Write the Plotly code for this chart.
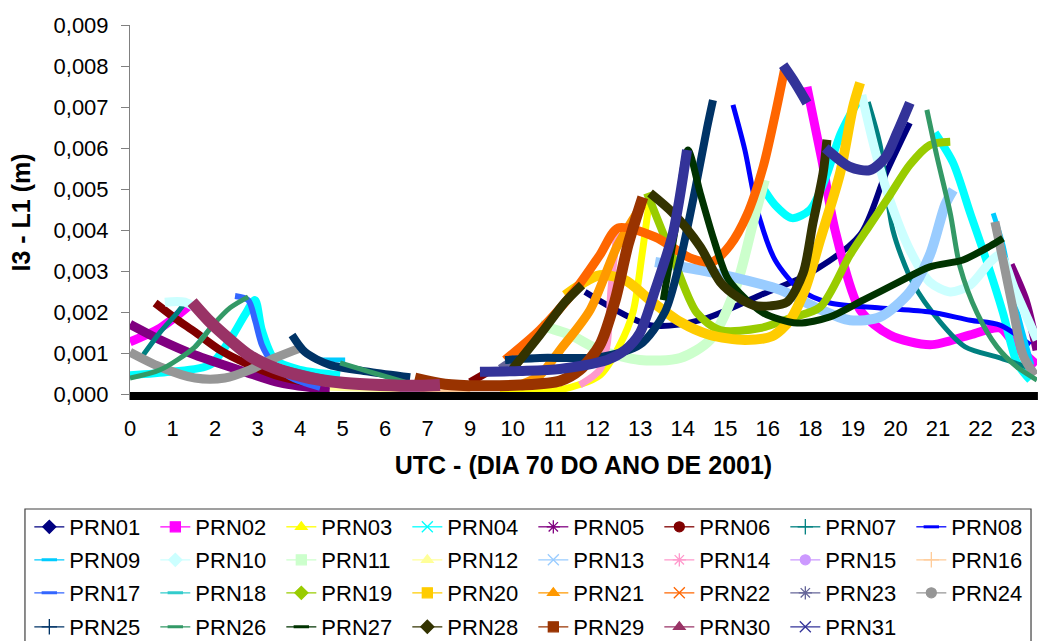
import plotly.graph_objects as go

# ---------------- data (x = position on the category time axis, y = I3 - L1 in metres) ----------------
x_tick_labels = ["0", "1", "2", "3", "4", "5", "6", "7", "9", "10", "11",
                 "12", "13", "14", "15", "16", "18", "19", "20", "21", "22", "23"]

prn_names = ["PRN%02d" % k for k in range(1, 32)]

N = None
prn01_x = [10.70, 12.23, 13.41, 14.82, 15.99, 17.17, 17.76, 18.34]
prn01_y = [0.00249, 0.00168, 0.00180, 0.00241, 0.00295, 0.00388, 0.00534, 0.00661]
prn02_x = [0, 0.71, 1.41, N, 15.92, 16.27, 16.58, 17.17, 17.87, 18.82, 19.76, 20.46, 20.81, 21.33]
prn02_y = [0.00127, 0.00161, 0.00217, N, 0.00749, 0.00571, 0.00400, 0.00205, 0.00144, 0.00120, 0.00144, 0.00161, 0.00120, 0.00071]
prn03_x = [8.70, 10.11, 11.05, 11.52, 11.83, 12.04, 12.23]
prn03_y = [0.00005, 0.00010, 0.00046, 0.00120, 0.00200, 0.00339, 0.00485]
prn04_x = [0, 0.94, 1.88, 2.35, 2.70, 2.94, 3.10, 3.41, 4.00, 4.94, N,
           14.77, 15.17, 15.57, 15.99, 16.34, 16.70, 16.93, 17.21, N,
           18.93, 19.36, 19.76, 20.16, 20.53, 20.86, 21.17]
prn04_y = [0.00046, 0.00054, 0.00071, 0.00132, 0.00193, 0.00229, 0.00156, 0.00083, 0.00059, 0.00046, N,
           0.00522, 0.00461, 0.00429, 0.00449, 0.00522, 0.00632, 0.00680, 0.00729, N,
           0.00637, 0.00563, 0.00441, 0.00320, 0.00198, 0.00076, 0.00034]
prn05_x = [0, 0.71, 1.53, 2.70, 3.53, 4.70, N, 20.70, 21.05, 21.33]
prn05_y = [0.00170, 0.00132, 0.00095, 0.00054, 0.00027, 0.00010, N, 0.00315, 0.00229, 0.00107]
prn06_x = [0.59, 1.06, 1.53, 2.12, 2.70, 3.41, 4.23, N, 8.00, 8.42]
prn06_y = [0.00222, 0.00185, 0.00151, 0.00107, 0.00076, 0.00046, 0.00027, N, 0.00029, 0.00054]
prn07_x = [0.31, 0.71, 1.11, 1.29, N, 17.36, 17.64, 17.94, 18.41, 19.05, 19.64, 20.46, 21.17]
prn07_y = [0.00095, 0.00151, 0.00198, 0.00222, N, 0.00712, 0.00607, 0.00400, 0.00271, 0.00176, 0.00115, 0.00088, 0.00063]
prn08_x = [14.18, 14.46, 14.75, 15.17, 15.76, 16.46, 17.64, 18.82, 19.76, 20.46, 21.17]
prn08_y = [0.00705, 0.00595, 0.00449, 0.00327, 0.00254, 0.00222, 0.00210, 0.00200, 0.00180, 0.00168, 0.00120]
prn09_x = [4.47, 5.06, N, 20.30, 20.53, 20.74, 20.98, 21.21]
prn09_y = [0.00083, 0.00083, N, 0.00441, 0.00363, 0.00254, 0.00156, 0.00071]
prn10_x = [0.82, 1.29, 1.76, 2.35, 3.06, 4.00, 4.94, N,
           17.21, 17.52, 17.87, 18.34, 18.81, 19.29, 19.76, 20.23, 20.46, 20.81, 21.33]
prn10_y = [0.00224, 0.00224, 0.00193, 0.00132, 0.00083, 0.00046, 0.00022, N,
           0.00729, 0.00595, 0.00473, 0.00351, 0.00273, 0.00249, 0.00266, 0.00322, 0.00339, 0.00254, 0.00132]
prn11_x = [9.64, 10.35, 11.05, 11.99, 12.94, 13.64, 14.23, 14.70, 14.93]
prn11_y = [0.00168, 0.00144, 0.00107, 0.00083, 0.00088, 0.00132, 0.00254, 0.00437, 0.00522]
prn12_x = [4.70, 5.88, 7.06]
prn12_y = [0.00015, 0.00012, 0.00010]
prn13_x = [12.35, 13.41, 14.46, 15.29, 16.11, 16.93, 17.64, 18.34, 18.81, 19.17, 19.36]
prn13_y = [0.00322, 0.00302, 0.00278, 0.00254, 0.00212, 0.00180, 0.00188, 0.00249, 0.00339, 0.00461, 0.00498]
prn14_x = [10.58, 11.05, 11.22, 11.31, 11.45]
prn14_y = [0.00022, 0.00059, 0.00120, 0.00254, 0.00393]
prn15_x = [6.35, 7.53]
prn15_y = [0.00012, 0.00010]
prn16_x = [6.82, 8.00]
prn16_y = [0.00010, 0.00008]
prn17_x = [2.47, 2.78, 2.94, 3.10, 3.34, 3.76, 4.47]
prn17_y = [0.00239, 0.00229, 0.00180, 0.00120, 0.00078, 0.00041, 0.00015]
prn18_x = [1.53, 1.95]
prn18_y = [0.00115, 0.00168]
prn19_x = [12.16, 12.70, 13.33, 13.88, 14.82, 15.52, 16.23, 16.93, 17.40, 17.87, 18.34, 18.81, 19.29]
prn19_y = [0.00490, 0.00351, 0.00198, 0.00156, 0.00161, 0.00185, 0.00212, 0.00339, 0.00412, 0.00485, 0.00559, 0.00607, 0.00615]
prn20_x = [10.23, 10.58, 11.05, 11.64, 12.23, 12.94, 13.64, 14.46, 15.10, 15.52, 15.87, 16.23, 16.70, 17.00, 17.17]
prn20_y = [0.00241, 0.00266, 0.00290, 0.00278, 0.00229, 0.00176, 0.00144, 0.00132, 0.00141, 0.00180, 0.00254, 0.00376, 0.00539, 0.00698, 0.00759]
prn21_x = [9.17, 9.64, 10.11, 10.82, 11.45, 11.92, 12.04]
prn21_y = [0.00022, 0.00046, 0.00107, 0.00205, 0.00359, 0.00441, 0.00461]
prn22_x = [8.82, 9.64, 10.47, 11.05, 11.48, 12.35, 13.17, 13.69, 14.11, 14.51, 14.89, 15.17, 15.40]
prn22_y = [0.00083, 0.00156, 0.00254, 0.00339, 0.00405, 0.00383, 0.00332, 0.00322, 0.00363, 0.00437, 0.00554, 0.00680, 0.00795]
prn23_x = [3.53, 4.23, 4.94, N, 8.70, 9.05]
prn23_y = [0.00063, 0.00046, 0.00029, N, 0.00063, 0.00088]
prn24_x = [0, 0.71, 1.53, 2.23, 2.82, 3.41, 4.00, N, 20.34, 20.53, 20.77, 21.00, 21.28]
prn24_y = [0.00102, 0.00066, 0.00039, 0.00039, 0.00059, 0.00088, 0.00112, N, 0.00420, 0.00327, 0.00205, 0.00095, 0.00046]
prn25_x = [3.81, 4.12, 4.70, 5.64, 6.59, N, 8.82, 9.64, 10.35, 11.05, 11.99, 12.58, 12.94, 13.29, 13.57, 13.71]
prn25_y = [0.00144, 0.00102, 0.00071, 0.00054, 0.00041, N, 0.00083, 0.00088, 0.00088, 0.00090, 0.00120, 0.00200, 0.00327, 0.00498, 0.00649, 0.00717]
prn26_x = [0, 0.71, 1.53, 1.95, 2.35, 2.78, N, 4.94, 5.64, 6.47, N,
           18.74, 18.98, 19.29, 19.52, 19.92, 20.39, 20.86, 21.33]
prn26_y = [0.00039, 0.00059, 0.00115, 0.00168, 0.00210, 0.00237, N, 0.00076, 0.00054, 0.00029, N,
           0.00693, 0.00578, 0.00441, 0.00310, 0.00198, 0.00115, 0.00066, 0.00034]
prn27_x = [12.54, 12.82, 13.12, 13.41, 13.71, 14.04, 14.34, 14.89, 15.69, 16.46, 17.24, 18.04, 18.81, 19.59, 20.23, 20.53]
prn27_y = [0.00229, 0.00400, 0.00595, 0.00490, 0.00383, 0.00285, 0.00246, 0.00198, 0.00173, 0.00188, 0.00229, 0.00271, 0.00310, 0.00327, 0.00361, 0.00380]
prn28_x = [8.94, 9.64, 10.23, 10.63, N, 12.23, 12.77, 13.41, 13.88, 14.28, 14.65, 15.05, 15.45, 15.83, 16.06, 16.30, 16.39]
prn28_y = [0.00054, 0.00144, 0.00224, 0.00266, N, 0.00490, 0.00441, 0.00359, 0.00273, 0.00237, 0.00217, 0.00215, 0.00224, 0.00295, 0.00417, 0.00539, 0.00620]
prn29_x = [6.70, 7.41, 8.23, 9.17, 10.11, 10.58, 11.05, 11.41, 11.71, 12.06]
prn29_y = [0.00039, 0.00024, 0.00020, 0.00022, 0.00032, 0.00059, 0.00120, 0.00229, 0.00363, 0.00480]
prn30_x = [1.46, 1.88, 2.35, 2.82, 3.41, 4.23, 5.06, 5.88, 6.82, 7.29]
prn30_y = [0.00224, 0.00176, 0.00132, 0.00093, 0.00063, 0.00039, 0.00027, 0.00022, 0.00020, 0.00022]
prn31_x = [8.23, 9.17, 10.11, 11.22, 11.64, 11.99, 12.35, 12.77, 13.10, N,
           15.36, 15.64, 15.92, N, 16.35, 16.93, 17.40, 17.76, 18.04, 18.34]
prn31_y = [0.00054, 0.00056, 0.00061, 0.00083, 0.00107, 0.00149, 0.00254, 0.00393, 0.00595, N,
           0.00802, 0.00759, 0.00710, N, 0.00600, 0.00554, 0.00546, 0.00576, 0.00637, 0.00710]

series_x = [prn01_x, prn02_x, prn03_x, prn04_x, prn05_x, prn06_x, prn07_x, prn08_x, prn09_x, prn10_x,
            prn11_x, prn12_x, prn13_x, prn14_x, prn15_x, prn16_x, prn17_x, prn18_x, prn19_x, prn20_x,
            prn21_x, prn22_x, prn23_x, prn24_x, prn25_x, prn26_x, prn27_x, prn28_x, prn29_x, prn30_x, prn31_x]
series_y = [prn01_y, prn02_y, prn03_y, prn04_y, prn05_y, prn06_y, prn07_y, prn08_y, prn09_y, prn10_y,
            prn11_y, prn12_y, prn13_y, prn14_y, prn15_y, prn16_y, prn17_y, prn18_y, prn19_y, prn20_y,
            prn21_y, prn22_y, prn23_y, prn24_y, prn25_y, prn26_y, prn27_y, prn28_y, prn29_y, prn30_y, prn31_y]

# ---------------- styles ----------------
colors = ["#000080", "#FF00FF", "#FFFF00", "#00FFFF", "#800080", "#800000", "#008080", "#0000FF",
          "#00CCFF", "#CCFFFF", "#CCFFCC", "#FFFF99", "#99CCFF", "#FF99CC", "#CC99FF", "#FFCC99",
          "#3366FF", "#33CCCC", "#99CC00", "#FFCC00", "#FF9900", "#FF6600", "#666699", "#969696",
          "#003366", "#339966", "#003300", "#333300", "#993300", "#993366", "#333399"]
widths = [6, 9, 7, 8, 9, 8, 5, 5, 5, 9, 10, 6, 10, 7, 6, 6, 6, 5, 8, 10, 9, 9, 7, 9, 8, 5, 7, 9, 11, 12, 10]
symbol_cycle = ["diamond", "square", "triangle-up", "x-thin-open", "asterisk-open",
                "circle", "cross-thin-open", "line-ew-open", "line-ew-open"]

FONT = "Arial, Liberation Sans, sans-serif"

fig = go.Figure()

for i in range(len(prn_names)):
    fig.add_trace(go.Scatter(
        x=series_x[i], y=series_y[i], mode="lines",
        line=dict(color=colors[i], width=widths[i], shape="spline", smoothing=0.8),
        connectgaps=False, showlegend=False, hoverinfo="skip"))

for i, nm in enumerate(prn_names):
    sym = symbol_cycle[i % 9]
    row = i // 8
    lid = "legend" if row == 0 else "legend%d" % (row + 1)
    msize = 10 if sym in ("diamond", "square", "triangle-up", "circle") else 11
    fig.add_trace(go.Scatter(
        x=[None], y=[None], mode="lines+markers", name=nm, legend=lid,
        line=dict(color=colors[i], width=1.3),
        marker=dict(symbol=sym, size=msize, color=colors[i],
                    line=dict(color=colors[i], width=3 if sym == "line-ew-open" else 1.3))))

row_y = [-0.3387, -0.4267, -0.5147, -0.6053]
legend_common = dict(orientation="h", x=-0.1110, xanchor="left", yanchor="middle",
                     entrywidth=81, entrywidthmode="pixels", bgcolor="rgba(0,0,0,0)",
                     borderwidth=0, font=dict(family=FONT, size=22, color="black"),
                     itemclick=False, itemdoubleclick=False)
legends = {}
for r in range(4):
    key = "legend" if r == 0 else "legend%d" % (r + 1)
    legends[key] = dict(legend_common, y=row_y[r])

fig.update_layout(
    width=1039, height=641,
    margin=dict(l=130, r=2, t=25, b=241, autoexpand=False),
    paper_bgcolor="white", plot_bgcolor="white",
    separators=",.",
    font=dict(family=FONT, color="black"),
    **legends,
    xaxis=dict(range=[0, 21.33], tickvals=list(range(len(x_tick_labels))), ticktext=x_tick_labels,
               showgrid=False, zeroline=False, showline=False, ticks="",
               tickfont=dict(size=22, family=FONT, color="black"), ticklabelstandoff=13,
               title=dict(text="UTC - (DIA 70 DO ANO DE 2001)", standoff=16,
                          font=dict(size=25, family=FONT, color="black", weight="bold"))),
    yaxis=dict(range=[-0.000146, 0.009], tick0=0, dtick=0.001, tickformat=".3f",
               showgrid=False, zeroline=False, showline=True, linecolor="#808080", linewidth=1,
               ticks="outside", ticklen=8, tickcolor="#808080",
               tickfont=dict(size=22, family=FONT, color="black"), ticklabelstandoff=8,
               title=dict(text="I3 - L1 (m)", standoff=15,
                          font=dict(size=25, family=FONT, color="black", weight="bold"))),
    shapes=[
        dict(type="rect", xref="paper", yref="y", x0=0, x1=1.001, y0=-0.000146, y1=0.00005,
             fillcolor="black", line=dict(width=0), layer="above"),
        dict(type="rect", xref="paper", yref="paper", x0=-0.1158, x1=0.9934, y0=-0.2907, y1=-0.75,
             fillcolor="rgba(0,0,0,0)", line=dict(color="#404040", width=1.2)),
    ],
)

fig.write_html("out.html")
